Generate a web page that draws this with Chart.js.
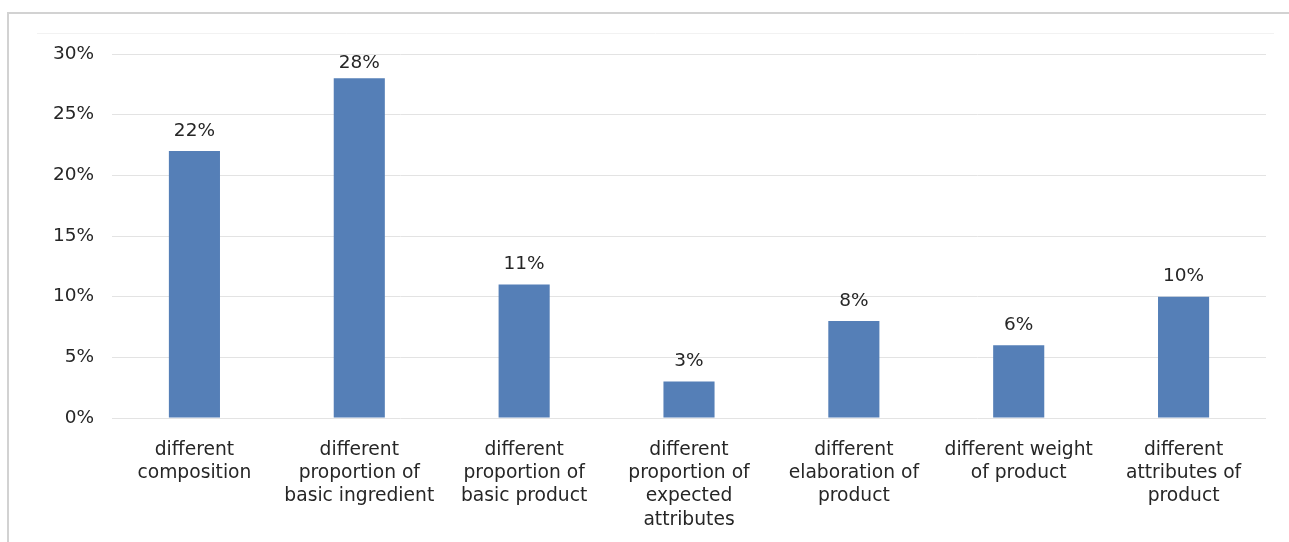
<!DOCTYPE html>
<html>
<head>
<meta charset="utf-8">
<script src="https://cdn.jsdelivr.net/npm/chart.js@4.4.1/dist/chart.umd.min.js"></script>
<style>
  html, body { margin: 0; padding: 0; background: #fff; }
  #wrap { width: 1289px; height: 542px; }
</style>
</head>
<body>
<div id="wrap"><canvas id="differencesChart"></canvas></div>
<script>
const categories = [
  ['different', 'composition'],
  ['different', 'proportion of', 'basic ingredient'],
  ['different', 'proportion of', 'basic product'],
  ['different', 'proportion of', 'expected', 'attributes'],
  ['different', 'elaboration of', 'product'],
  ['different weight', 'of product'],
  ['different', 'attributes of', 'product']
];
const shares = [22, 28, 11, 3, 8, 6, 10];
const yTicks = [0, 5, 10, 15, 20, 25, 30];

const FONT = 'DejaVu Sans';

// thin grey frame around the chart
const framePlugin = {
  id: 'frame',
  beforeDraw(chart) {
    const ctx = chart.ctx;
    ctx.save();
    ctx.fillStyle = '#fff';
    ctx.fillRect(0, 0, chart.width, chart.height);
    ctx.strokeStyle = '#d2d2d2';
    ctx.lineWidth = 2;
    ctx.beginPath();
    ctx.moveTo(8, chart.height);
    ctx.lineTo(8, 13);
    ctx.lineTo(chart.width, 13);
    ctx.stroke();
    ctx.strokeStyle = '#f2f2f2';
    ctx.lineWidth = 1;
    ctx.beginPath();
    ctx.moveTo(37, 33.5);
    ctx.lineTo(1274, 33.5);
    ctx.stroke();
    ctx.restore();
  }
};

// percentage labels above each bar, kept inside the plot area
const valueLabels = {
  id: 'valueLabels',
  afterDatasetsDraw(chart) {
    const ctx = chart.ctx;
    const meta = chart.getDatasetMeta(0);
    ctx.save();
    ctx.font = '18.5px ' + FONT;
    ctx.fillStyle = '#262626';
    ctx.textAlign = 'center';
    ctx.textBaseline = 'middle';
    meta.data.forEach((bar, i) => {
      const y = Math.max(bar.y - 20, chart.chartArea.top + 9);
      ctx.fillText(shares[i] + '%', bar.x, y);
    });
    ctx.restore();
  }
};

new Chart(document.getElementById('differencesChart'), {
  type: 'bar',
  data: {
    labels: categories,
    datasets: [{
      data: shares,
      backgroundColor: '#557fb7',
      borderWidth: 0,
      categoryPercentage: 1,
      barPercentage: 0.31
    }]
  },
  options: {
    responsive: true,
    maintainAspectRatio: false,
    animation: false,
    layout: { padding: { left: 0, right: 23, top: 54, bottom: 0 } },
    plugins: {
      legend: { display: false },
      tooltip: { enabled: false }
    },
    scales: {
      x: {
        grid: { display: false },
        border: { display: false },
        ticks: {
          color: '#262626',
          font: { family: FONT, size: 18.7, lineHeight: 1.25 },
          padding: 12,
          maxRotation: 0,
          autoSkip: false
        },
        afterFit(scale) { scale.height = 124; }
      },
      y: {
        min: 0,
        max: 30,
        afterBuildTicks(scale) {
          scale.ticks = yTicks.map(v => ({ value: v }));
        },
        grid: { color: '#e3e3e3', drawTicks: false, lineWidth: 1 },
        border: { display: false },
        ticks: {
          color: '#262626',
          font: { family: FONT, size: 18.5 },
          padding: 18,
          callback: v => v + '%'
        },
        afterFit(scale) { scale.width = 112; }
      }
    }
  },
  plugins: [framePlugin, valueLabels]
});
</script>
</body>
</html>
